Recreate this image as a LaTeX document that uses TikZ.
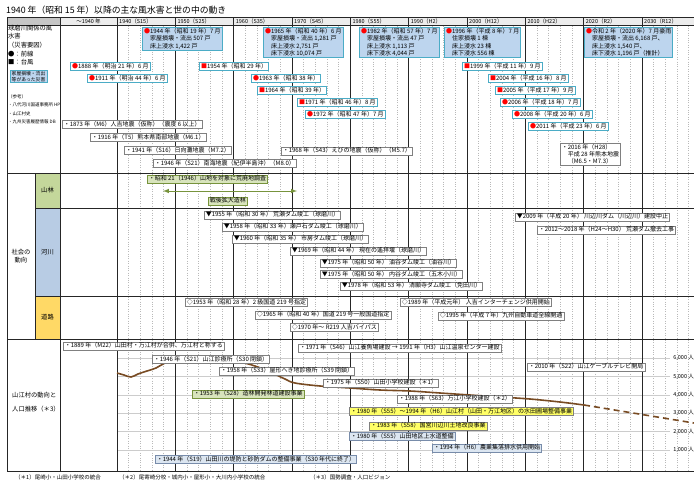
\documentclass[tikz,border=0pt]{standalone}
\usepackage{fontspec}
\setmainfont{Noto Sans CJK JP}
\usetikzlibrary{positioning,arrows}
\definecolor{boxblue}{RGB}{189,213,238}
\definecolor{edgeblue}{RGB}{75,172,198}
\definecolor{forestfill}{RGB}{216,228,188}
\definecolor{forestcell}{RGB}{196,215,155}
\definecolor{forestline}{RGB}{119,147,60}
\definecolor{rivercell}{RGB}{184,204,228}
\definecolor{roadcell}{RGB}{255,217,102}
\definecolor{yelfill}{RGB}{255,255,102}
\definecolor{waterfill}{RGB}{220,230,241}
\definecolor{wateredge}{RGB}{120,140,170}
\definecolor{popline}{RGB}{120,75,35}
\newcommand{\mkf}{\textcolor{red}{●}}
\newcommand{\mkt}{\textcolor{red}{■}}
\newcommand{\ind}{\hspace*{6pt}}

\begin{document}
\begin{tikzpicture}[x=1pt, y=-1pt,
  ev/.style={draw=gray, fill=white, line width=0.5pt, anchor=west,
    inner xsep=1.5pt, inner ysep=1pt, text height=4.8pt, text depth=1.3pt,
    font=\fontsize{6}{7.3}\selectfont},
  multi/.style={text height=, text depth=, anchor=north west, align=left},
  dis/.style={ev, draw=edgeblue, line width=1pt},
  bigdis/.style={dis, fill=boxblue, multi},
  frst/.style={ev, draw=forestline, fill=forestfill},
  yel/.style={ev, fill=yelfill},
  wat/.style={ev, draw=wateredge, fill=waterfill},
  lbl/.style={font=\fontsize{6.3}{8.7}\selectfont, inner sep=0pt},
  hd/.style={font=\fontsize{5.5}{6}\selectfont, inner sep=0pt, anchor=west},
  major/.style={draw=gray!30!black, line width=0.6pt},
  minor/.style={draw=gray!55, line width=0.4pt, dotted}]
\useasboundingbox (0,0) rectangle (694,483);
\fill[gray!15] (60,17) rectangle (694,25.5);
\fill[gray!45] (7,17) rectangle (60,25.5);
\fill[forestcell] (35,173) rectangle (60,208);
\fill[rivercell] (35,208) rectangle (60,296);
\fill[roadcell] (35,296) rectangle (60,339);
\foreach \k in {0,...,9}
  \foreach \j in {1,...,4}
    \draw[minor] ({117+58.333*\k+11.667*\j},25.5) -- ++(0,445.5);
\foreach \p in {1,...,6}
  \draw[gray!40, line width=0.4pt] (117,{468-18.3*\p}) -- (670,{468-18.3*\p});
\foreach \k in {0,...,9}
  \draw[major] ({117+58.333*\k},17) -- ({117+58.333*\k},471);
\draw[major] (7,17) -- (694,17) (7,25.5) -- (694,25.5) (7,173) -- (694,173)
  (35,208) -- (694,208) (35,296) -- (694,296) (7,339) -- (694,339) (7,471) -- (694,471)
  (7,17) -- (7,471) (60,17) -- (60,471) (35,173) -- (35,339);

\node[anchor=west, inner sep=0pt, font=\fontsize{8.8}{10}\selectfont] (title) at (6,10.5) {1940 年（昭和 15 年）以降の主な風水害と世の中の動き};
\node[hd, anchor=center] (hpre) at (88.5,21.3) {～1940 年};
\foreach \k/\t in {0/1940（S15）,1/1950（S25）,2/1960（S35）,3/1970（S45）,4/1980（S55）,
  5/1990（H2）,6/2000（H12）,7/2010（H22）,8/2020（R2）,9/2030（R12）}
  \node[hd] (h\k) at ({119+58.333*\k},21.3) {\t};

\node[lbl, anchor=north west, align=left] (legend) at (8,24.5) {球磨川関係の風\\水害\\（災害要因）\\●：前線\\■：台風};
\node[ev, draw=edgeblue, fill=boxblue, multi, font=\fontsize{4.8}{6}\selectfont] (legbox) at (10,70) {家屋損壊・流出\\等があった災害};
\node[lbl, anchor=north west, align=left, font=\fontsize{4.5}{8.6}\selectfont] (refs) at (8,94) {（参考）\\・八代河川国道事務所 HP\\・山江村史\\・九州災害履歴情報 DB};
\node[lbl, align=center] (soc) at (21,256) {社会の\\動向};
\node[lbl] (lforest) at (47.5,190.5) {山林};
\node[lbl] (lriver) at (47.5,252) {河川};
\node[lbl] (lroad) at (47.5,317.5) {道路};
\node[lbl, anchor=north west, align=left, font=\fontsize{6.3}{14}\selectfont] (lvil) at (12,392) {山江村の動向と\\人口推移（＊3）};

\coordinate (p2020) at (584,405);
\coordinate (p2040) at (694,423);
\draw[popline, line width=1.6pt] plot[smooth, tension=0.6] coordinates {(117,373) (124,375) (131,377) (138,374)
  (147,371) (156,368) (165,363) (176,360) (190,358) (205,358) (220,359) (240,362) (255,366) (270,372)
  (285,379) (295,383) (320,386) (350,388) (380,390) (410,391) (440,393) (470,395) (500,397) (530,399)
  (560,402) (p2020)};
\draw[popline, line width=1.6pt, dash pattern=on 6pt off 4pt] (p2020) -- (p2040);
\foreach \p in {1,...,6}
  \node[hd, anchor=east] (pop\p) at (694,{468-18.3*\p}) {\p,000 人};

\node[bigdis] (b1944) at (142,27) {\mkf{}1944 年（昭和 19 年）7 月\\\ind{}家屋損壊・流出 507 戸\\\ind{}床上浸水 1,422 戸};
\node[bigdis] (b1965) at (263,27) {\mkf{}1965 年（昭和 40 年）6 月\\\ind{}家屋損壊・流出 1,281 戸\\\ind{}床上浸水 2,751 戸\\\ind{}床下浸水 10,074 戸};
\node[bigdis] (b1982) at (359,27) {\mkf{}1982 年（昭和 57 年）7 月\\\ind{}家屋損壊・流出 47 戸\\\ind{}床上浸水 1,113 戸\\\ind{}床下浸水 4,044 戸};
\node[bigdis] (b1996) at (444,27) {\mkf{}1996 年（平成 8 年）7 月\\\ind{}住家損壊 1 棟\\\ind{}床上浸水 23 棟\\\ind{}床下浸水 556 棟};
\node[bigdis] (b2020) at (584,27) {\mkf{}令和 2 年（2020 年）7 月豪雨\\\ind{}家屋損壊・流出 6,168 戸、\\\ind{}床上浸水 1,540 戸、\\\ind{}床下浸水 1,196 戸（推計）};

\node[dis] (d1888) at (70,66.5) {\mkf{}1888 年（明治 21 年）6 月};
\node[dis] (d1911) at (87,78.5) {\mkf{}1911 年（明治 44 年）6 月};
\node[dis] (d1954) at (199,66.5) {\mkt{}1954 年（昭和 29 年）};
\node[dis] (d1963) at (251,78.5) {\mkf{}1963 年（昭和 38 年）};
\node[dis] (d1964) at (257,90.5) {\mkt{}1964 年（昭和 39 年）};
\node[dis] (d1971) at (297,102.5) {\mkt{}1971 年（昭和 46 年）8 月};
\node[dis] (d1972) at (305,114.5) {\mkf{}1972 年（昭和 47 年）7 月};
\node[dis] (d1999) at (462,66.5) {\mkt{}1999 年（平成 11 年）9 月};
\node[dis] (d2004) at (488,78.5) {\mkt{}2004 年（平成 16 年）8 月};
\node[dis] (d2005) at (495,90.5) {\mkt{}2005 年（平成 17 年）9 月};
\node[dis] (d2006) at (500,102.5) {\mkf{}2006 年（平成 18 年）7 月};
\node[dis] (d2008) at (512,114.5) {\mkf{}2008 年（平成 20 年）6 月};
\node[dis] (d2011) at (528,126.5) {\mkf{}2011 年（平成 23 年）6 月};

\node[ev] (q1873) at (62,124.5) {・1873 年（M6）人吉地震（仮称）（震度 6 以上）};
\node[ev] (q1916) at (90,137.5) {・1916 年（T5）熊本県南部地震（M6.1）};
\node[ev] (q1941) at (124,150.5) {・1941 年（S16）日向灘地震（M7.2）};
\node[ev] (q1946) at (153,163.5) {・1946 年（S21）南海地震（紀伊半島沖）（M8.0）};
\node[ev] (q1968) at (281,151) {・1968 年（S43）えびの地震（仮称）（M5.7）};
\node[ev, multi] (q2016) at (560,143) {・2016 年（H28）\\\ind{}平成 28 年熊本地震\\\ind{}（M6.5・M7.3）};

\node[frst] (f1946) at (147,179) {・昭和 21（1946）山地を対象に荒廃地調査};
\coordinate (zs) at (163,191);
\coordinate (ze) at (297,191);
\draw[latex-latex, forestline, line width=1pt] (zs) -- (ze);
\node[frst] (fzorin) at (208,201) {戦後拡大造林};

\node[ev] (r1955) at (204,215) {▼1955 年（昭和 30 年） 荒瀬ダム竣工（球磨川）};
\node[ev] (r1958) at (222,227) {▼1958 年（昭和 33 年）瀬戸石ダム竣工（球磨川）};
\node[ev] (r1960) at (232,239) {▼1960 年（昭和 35 年） 市房ダム竣工（球磨川）};
\node[ev] (r1969) at (290,251) {▼1969 年（昭和 44 年） 現在の遙拝堰（球磨川）};
\node[ev] (r1975a) at (320,263) {▼1975 年（昭和 50 年） 油谷ダム竣工（油谷川）};
\node[ev] (r1975b) at (320,274.5) {▼1975 年（昭和 50 年） 内谷ダム竣工（五木小川）};
\node[ev] (r1978) at (340,286) {▼1978 年（昭和 53 年） 清願寺ダム竣工（免田川）};
\node[ev] (r2009) at (515,217) {▼2009 年（平成 20 年） 川辺川ダム（川辺川）建設中止};
\node[ev] (r2012) at (537,230) {・2012～2018 年（H24～H30） 荒瀬ダム撤去工事};

\node[ev] (ro1953) at (185,302.5) {◇1953 年（昭和 28 年）2 級国道 219 号指定};
\node[ev] (ro1965) at (255,315) {◇1965 年（昭和 40 年）国道 219 号一般国道指定};
\node[ev] (ro1970) at (290,327.5) {◇1970 年～ R219 人吉バイパス};
\node[ev] (ro1989) at (400,302.5) {◇1989 年（平成元年） 人吉インターチェンジ供用開始};
\node[ev] (ro1995) at (438,316) {◇1995 年（平成 7 年）九州自動車道全線開通};

\node[ev] (v1889) at (63,346) {・1889 年（M22）山田村・万江村が合併、万江村と称する};
\node[ev] (v1971) at (298,348) {・1971 年（S46）山江養魚場建設 → 1991 年（H3）山江温泉センター建設};
\node[ev] (v1946) at (152,359.5) {・1946 年（S21）山江診療所（S30 閉鎖）};
\node[ev] (v2010) at (527,367) {・2010 年（S22）山江ケーブルテレビ開局};
\node[ev] (v1958) at (219,371) {・1958 年（S33）屋形へき地診療所（S39 閉鎖）};
\node[ev] (v1975) at (323,383) {・1975 年（S50）山田小学校建設（＊1）};
\node[frst] (v1953) at (192,394) {・1953 年（S28）造林開発林道建設事業};
\node[ev] (v1988) at (397,399) {・1988 年（S63）万江小学校建設（＊2）};
\node[yel] (v1980a) at (349,411.5) {・1980 年（S55）～1994 年（H6）山江村（山田・万江地区）の水田圃場整備事業};
\node[yel] (v1983) at (369,426) {・1983 年（S58）国営川辺川土地改良事業};
\node[wat] (v1980b) at (349,436.5) {・1980 年（S55）山田地区上水道整備};
\node[wat] (v1994) at (432,448) {・1994 年（H6）農業集落排水供用開始};
\node[wat] (v1944) at (155,459.5) {・1944 年（S19）山田川の堤防と砂防ダムの整備事業（S30 年代に終了）};

\node[hd] (fn1) at (15,477.5) {（＊1）尾崎小・山田小学校の統合};
\node[hd] (fn2) at (119,477.5) {（＊2）尾寄崎分校・城内小・屋形小・大川内小学校の統合};
\node[hd] (fn3) at (310,477.5) {（＊3）国勢調査・人口ビジョン};
\end{tikzpicture}
\end{document}
